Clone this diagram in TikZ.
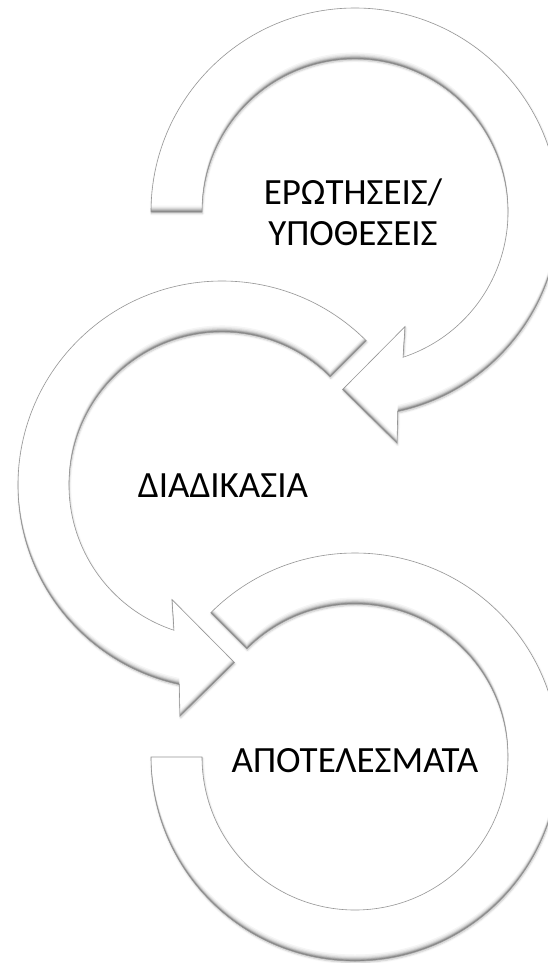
\documentclass[tikz,border=0pt]{standalone}
\usepackage{fontspec}
\setmainfont{Carlito}
\usetikzlibrary{calc,shadows.blur}
\definecolor{rim}{RGB}{150,150,150}

% Ring outlines, each relative to its own centre (radii 153/204, head up to 235)
\def\ringA{(180:204pt) arc[start angle=180, end angle=-77.9, radius=204pt]
  -- (-79.7:235pt) -- (-94:178pt) -- (-66.4:125pt) -- (-71.7:153pt)
  arc[start angle=-71.7, end angle=180, radius=153pt] -- cycle}
\def\ringB{(45:204pt) arc[start angle=45, end angle=257.9, radius=204pt]
  -- (259.7:235pt) -- (274:178pt) -- (246.4:125pt) -- (251.7:153pt)
  arc[start angle=251.7, end angle=45, radius=153pt] -- cycle}
\def\ringC{(135:204pt) arc[start angle=135, end angle=-180, radius=204pt]
  -- (180:153pt) arc[start angle=-180, end angle=135, radius=153pt] -- cycle}

% white band with soft drop shadow, inner bevel shading and a thin rim
\newcommand\embossed[1]{%
  \fill[white, blur shadow={shadow xshift=0.6pt, shadow yshift=-1.5pt,
        shadow opacity=25, shadow blur radius=2pt}] #1;
  \begin{scope}
    \clip #1;
    \foreach \d/\o in {0.7/0.16, 1.4/0.13, 2.1/0.11, 2.8/0.09, 3.8/0.07, 5/0.05, 6.5/0.04}
      \fill[black, opacity=\o, even odd rule, yshift=\d pt]
        (-320,-320) rectangle (320,320) #1;
  \end{scope}
  \draw[rimline] #1;
}

\begin{document}
\begin{tikzpicture}[x=1pt, y=-1pt,
  rimline/.style={draw=rim, line width=0.6pt, line join=miter},
  lbl/.style={font=\fontsize{37}{41}\selectfont, text=black, align=center, inner sep=0pt}]
\useasboundingbox (0,0) rectangle (548,963);
\clip (0,0) rectangle (548,963);

% third stage: open block arc
\begin{scope}[shift={(355,757)}]
  \embossed{\ringC}
\end{scope}
% second stage: arrow turning anticlockwise
\begin{scope}[shift={(222,485)}]
  \embossed{\ringB}
\end{scope}
% first stage: arrow turning clockwise
\begin{scope}[shift={(355,212)}]
  \embossed{\ringA}
\end{scope}

\node[lbl, anchor=base] (q) at (353,245) {ΕΡΩΤΗΣΕΙΣ/\\ΥΠΟΘΕΣΕΙΣ};
\node[lbl, anchor=base] (p) at (223,497) {ΔΙΑΔΙΚΑΣΙΑ};
\node[lbl, anchor=base] (r) at (355,772) {ΑΠΟΤΕΛΕΣΜΑΤΑ};
\end{tikzpicture}
\end{document}
